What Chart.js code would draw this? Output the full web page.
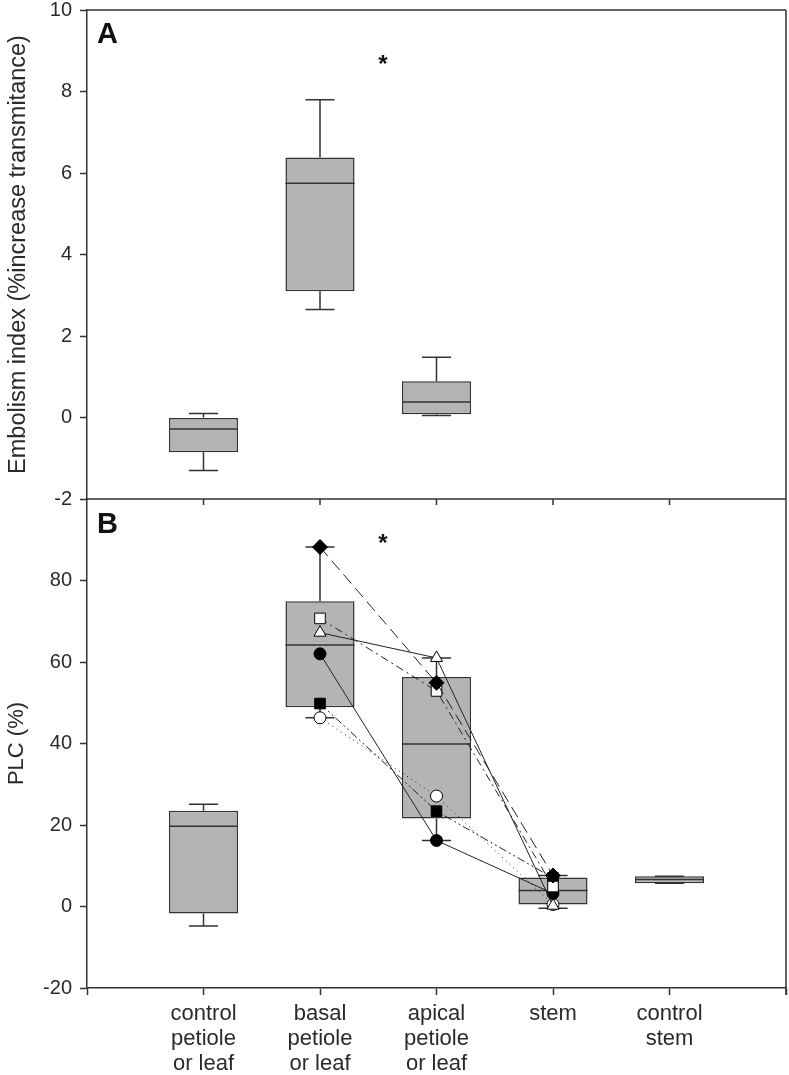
<!DOCTYPE html>
<html>
<head>
<meta charset="utf-8">
<script src="https://cdn.jsdelivr.net/npm/chart.js@4.4.1/dist/chart.umd.min.js"></script>
<style>
  html, body { margin: 0; padding: 0; background: #fff; }
  canvas { display: block; }
</style>
</head>
<body>
<canvas id="grafico" width="789" height="1075"></canvas>
<script>
const categorias = [
  ["control", "petiole", "or leaf"],
  ["basal", "petiole", "or leaf"],
  ["apical", "petiole", "or leaf"],
  ["stem"],
  ["control", "stem"]
];

// panel A: embolism index (control petiole, basal, apical)
const posA = [1, 2, 3];
const minA = [-1.3, 2.65, 0.05];
const q1A = [-0.85, 3.1, 0.08];
const medA = [-0.28, 5.75, 0.38];
const q3A = [0.0, 6.38, 0.89];
const maxA = [0.1, 7.8, 1.48];

// panel B: PLC (%)
const posB = [1, 2, 3, 4, 5];
const minB = [-4.8, 46.3, 16.2, -0.4, 5.7];
const q1B = [-1.7, 48.9, 21.6, 0.5, 5.7];
const medB = [19.7, 64.2, 39.9, 3.9, 6.6];
const q3B = [23.5, 74.9, 56.3, 7.1, 7.4];
const maxB = [25.1, 88.2, 61.0, 7.6, 7.4];

// individual plants: basal, apical, stem
const posPlantas = [2, 3, 4];
const plcDiamante = [88.2, 54.9, 7.6];
const plcQuadradoAberto = [70.7, 52.9, 4.9];
const plcTriangulo = [67.2, 61.0, 0.2];
const plcCirculoCheio = [62.0, 16.2, 3.2];
const plcQuadradoCheio = [49.8, 23.4, 7.0];
const plcCirculoAberto = [46.3, 27.1, 0.5];

const ticksA = [-2, 0, 2, 4, 6, 8, 10];
const ticksB = [-20, 0, 20, 40, 60, 80];

const asteriscoA = { x: 2.54, y: 8.72 };
const asteriscoB = { x: 2.54, y: 89.8 };

const FONTE = "'Liberation Sans', Arial, sans-serif";
const COR_TEXTO = "#2a2a2a";
const COR_LINHA = "#333";
const LARGURA_CAIXA = 0.593;
const LARGURA_BIGODE = 0.25;

function caixas(eixo, pos, min, q1, med, q3, max) {
  const hw = LARGURA_CAIXA / 2;
  const cw = LARGURA_BIGODE / 2;
  const barras = {
    type: "bar",
    yAxisID: eixo,
    data: pos.map((x, i) => ({ x, y: [q1[i], q3[i]] })),
    backgroundColor: "#b4b4b4",
    borderColor: COR_LINHA,
    borderWidth: 1.5,
    borderSkipped: false,
    barPercentage: LARGURA_CAIXA,
    categoryPercentage: 1,
    grouped: false,
    order: 3
  };
  const medianas = {
    type: "line",
    yAxisID: eixo,
    data: pos.flatMap((x, i) => [
      { x: x - hw, y: med[i] }, { x: x + hw, y: med[i] }, { x, y: null }
    ]),
    borderColor: COR_LINHA,
    borderWidth: 1.5,
    pointRadius: 0,
    spanGaps: false,
    order: 2
  };
  const bigodes = {
    type: "line",
    yAxisID: eixo,
    data: pos.flatMap((x, i) => [
      { x, y: q3[i] }, { x, y: max[i] }, { x, y: null },
      { x: x - cw, y: max[i] }, { x: x + cw, y: max[i] }, { x, y: null },
      { x, y: q1[i] }, { x, y: min[i] }, { x, y: null },
      { x: x - cw, y: min[i] }, { x: x + cw, y: min[i] }, { x, y: null }
    ]),
    borderColor: COR_LINHA,
    borderWidth: 1.5,
    pointRadius: 0,
    spanGaps: false,
    order: 2
  };
  return [barras, medianas, bigodes];
}

const estilosPlantas = [
  { valores: plcDiamante, ponto: "rectRot", fundo: "#000", raio: 7.5, traco: [12, 6] },
  { valores: plcQuadradoAberto, ponto: "rect", fundo: "#fff", raio: 7.5, traco: [8, 4, 2, 4] },
  { valores: plcTriangulo, ponto: "triangle", fundo: "#fff", raio: 7, traco: [] },
  { valores: plcCirculoCheio, ponto: "circle", fundo: "#000", raio: 6, traco: [] },
  { valores: plcQuadradoCheio, ponto: "rect", fundo: "#000", raio: 7.5, traco: [8, 3, 2, 3, 2, 3] },
  { valores: plcCirculoAberto, ponto: "circle", fundo: "#fff", raio: 6, traco: [1, 4] }
];

const plantas = estilosPlantas.map(e => ({
  type: "line",
  yAxisID: "yB",
  data: posPlantas.map((x, i) => ({ x, y: e.valores[i] })),
  borderColor: "#222",
  borderWidth: 1,
  borderDash: e.traco,
  pointStyle: e.ponto,
  pointRadius: e.raio,
  pointBackgroundColor: e.fundo,
  pointBorderColor: "#000",
  pointBorderWidth: 1,
  order: 0
}));

const moldura = {
  id: "moldura",
  afterDraw(chart) {
    const { ctx, chartArea, scales } = chart;
    const { left, right, top, bottom } = chartArea;
    const divisa = scales.yB.getPixelForValue(100);
    ctx.save();
    ctx.strokeStyle = COR_LINHA;
    ctx.lineWidth = 1.5;
    ctx.beginPath();
    ctx.moveTo(left, top);
    ctx.lineTo(right, top);
    ctx.moveTo(right, top);
    ctx.lineTo(right, bottom + 7);
    ctx.moveTo(left, divisa);
    ctx.lineTo(right, divisa);
    for (let v = 1; v <= 5; v++) {
      const x = scales.x.getPixelForValue(v);
      ctx.moveTo(x, divisa);
      ctx.lineTo(x, divisa + 6);
    }
    ctx.stroke();

    ctx.fillStyle = "#111";
    ctx.textBaseline = "alphabetic";
    ctx.textAlign = "left";
    ctx.font = "bold 29px " + FONTE;
    ctx.fillText("A", left + 10, top + 33);
    ctx.fillText("B", left + 10, divisa + 34);

    ctx.textAlign = "center";
    ctx.font = "bold 24px " + FONTE;
    [[asteriscoA, scales.yA], [asteriscoB, scales.yB]].forEach(([a, eixo]) => {
      ctx.fillText("*", scales.x.getPixelForValue(a.x), eixo.getPixelForValue(a.y) + 10);
    });
    ctx.restore();
  }
};

function eixoY(min, max, lista, titulo, tamanhoTitulo) {
  return {
    type: "linear",
    position: "left",
    stack: "paineis",
    stackWeight: 1,
    min, max,
    afterFit: s => { s.width = 87; s.paddingTop = 0; s.paddingBottom = 0; },
    afterBuildTicks: s => { s.ticks = lista.map(v => ({ value: v })); },
    ticks: {
      color: COR_TEXTO,
      padding: 8,
      font: { family: FONTE, size: 20, lineHeight: 1 }
    },
    grid: { drawOnChartArea: false, tickLength: 7, color: COR_LINHA, tickWidth: 1.5 },
    border: { display: true, color: COR_LINHA, width: 1.5 },
    title: {
      display: true,
      text: titulo,
      color: COR_TEXTO,
      padding: { top: 4, bottom: 0 },
      font: { family: FONTE, size: tamanhoTitulo }
    }
  };
}

new Chart(document.getElementById("grafico"), {
  data: {
    datasets: [
      ...plantas,
      ...caixas("yA", posA, minA, q1A, medA, q3A, maxA),
      ...caixas("yB", posB, minB, q1B, medB, q3B, maxB)
    ]
  },
  options: {
    responsive: false,
    animation: false,
    layout: { autoPadding: false, padding: { top: 10, right: 3, left: 0, bottom: 0 } },
    plugins: { legend: { display: false }, tooltip: { enabled: false } },
    scales: {
      x: {
        type: "linear",
        min: 0,
        max: 6,
        offset: false,
        afterFit: s => { s.height = 87; s.paddingRight = 0; s.paddingLeft = 0; },
        ticks: {
          stepSize: 1,
          padding: 6,
          color: COR_TEXTO,
          font: { family: FONTE, size: 22, lineHeight: 1.15 },
          callback: v => categorias[v - 1] || ""
        },
        grid: { offset: false, drawOnChartArea: false, tickLength: 7, color: COR_LINHA, tickWidth: 1.5 },
        border: { display: true, color: COR_LINHA, width: 1.5 }
      },
      yB: eixoY(-20, 100, ticksB, "PLC (%)", 22),
      yA: eixoY(-2, 10, ticksA, "Embolism index (%increase transmitance)", 23.5)
    }
  },
  plugins: [moldura]
});
</script>
</body>
</html>
